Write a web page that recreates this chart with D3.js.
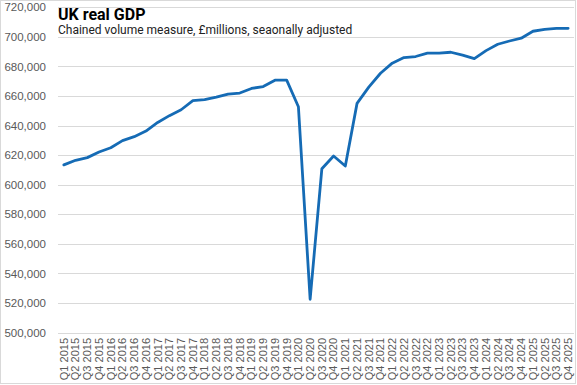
<!DOCTYPE html>
<html>
<head>
<meta charset="utf-8">
<script src="https://cdn.jsdelivr.net/npm/d3@7"></script>
<style>
  body { margin: 0; background: #fff; }
  svg { display: block; }
</style>
</head>
<body>
<div id="chart"></div>
<script>
// Quarter labels, Q1 2015 .. Q4 2025
const years = [2015, 2016, 2017, 2018, 2019, 2020, 2021, 2022, 2023, 2024, 2025];
const quarters = years.flatMap((y) => ["Q1", "Q2", "Q3", "Q4"].map((q) => q + " " + y));

// Real GDP, chained volume measure, £m
const gdp = [
  613400, 616500, 618300, 622100, 625000, 629800, 632500, 636300,
  642100, 646700, 650700, 656800, 657500, 659200, 661300, 662000,
  665100, 666400, 670700, 670700, 652700, 522500, 610800, 619400,
  612600, 655000, 666000, 675400, 682200, 686000, 686700, 689000,
  689000, 689600, 687600, 685300, 690700, 695000, 697200, 699100,
  703800, 705100, 705800, 705800
];

const yTicks = d3.range(500000, 720001, 20000);

const w = 577;
const h = 385;
const margin = { top: 7, right: 3, bottom: 52, left: 58 };

const svg = d3.select("#chart").append("svg").attr("width", w).attr("height", h);

// chart frame
svg.append("rect")
  .attr("x", 0.5).attr("y", 0.5)
  .attr("width", w - 2).attr("height", h - 2)
  .attr("fill", "#fff").attr("stroke", "#d9d9d9");

const x = d3.scaleBand()
  .domain(quarters)
  .range([margin.left, w - margin.right]);

const y = d3.scaleLinear()
  .domain([500000, 720000])
  .range([h - margin.bottom - 0.5, margin.top + 0.3]);

// gridlines
svg.append("g")
  .selectAll("line")
  .data(yTicks)
  .enter()
  .append("line")
  .attr("x1", margin.left)
  .attr("x2", w - margin.right)
  .attr("y1", (d) => Math.round(y(d)) + 0.5)
  .attr("y2", (d) => Math.round(y(d)) + 0.5)
  .attr("stroke", "#d9d9d9")
  .attr("stroke-width", 1);

// y axis labels
const yAxis = svg.append("g")
  .attr("transform", `translate(${margin.left - 12},0)`)
  .call(d3.axisLeft(y).tickValues(yTicks).tickSize(0).tickFormat(d3.format(",")));
yAxis.select(".domain").remove();
yAxis.selectAll("text")
  .attr("x", 0)
  .attr("font-family", "Liberation Sans, Arial, sans-serif")
  .attr("font-size", 11.5)
  .attr("fill", "#595959");

// x axis labels (rotated)
const xAxis = svg.append("g")
  .attr("transform", `translate(0,${h - margin.bottom})`)
  .call(d3.axisBottom(x).tickSize(0));
xAxis.select(".domain").remove();
xAxis.selectAll("text")
  .attr("font-family", "Liberation Sans, Arial, sans-serif")
  .attr("font-size", 11)
  .attr("fill", "#595959")
  .attr("text-anchor", "end")
  .attr("transform", "rotate(-90)")
  .attr("x", -5)
  .attr("y", 0)
  .attr("dy", "0.35em");

// title block
svg.append("text")
  .attr("x", margin.left)
  .attr("y", 20)
  .attr("font-family", "Roboto, Noto Sans, sans-serif")
  .attr("font-weight", "bold")
  .attr("font-size", 16)
  .attr("fill", "#000")
  .text("UK real GDP");

svg.append("text")
  .attr("x", margin.left)
  .attr("y", 34)
  .attr("font-family", "Roboto, Noto Sans, sans-serif")
  .attr("font-size", 12)
  .attr("fill", "#222")
  .text("Chained volume measure, \u00a3millions, seaonally adjusted");

// line
const line = d3.line()
  .x((d, i) => x(quarters[i]) + x.bandwidth() / 2)
  .y((d) => y(d));

svg.append("path")
  .datum(gdp)
  .attr("d", line)
  .attr("fill", "none")
  .attr("stroke", "#156bb5")
  .attr("stroke-width", 2.8)
  .attr("stroke-linejoin", "round")
  .attr("stroke-linecap", "round");
</script>
</body>
</html>
